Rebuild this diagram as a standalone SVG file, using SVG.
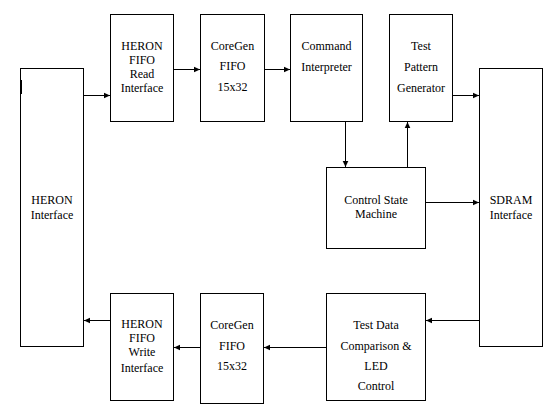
<svg xmlns="http://www.w3.org/2000/svg" width="552" height="416" viewBox="0 0 552 416">
<style>
rect{fill:#fff;stroke:#000;stroke-width:1}
text{font-size:12px;fill:#000;text-anchor:middle}
.c line{stroke:#000;stroke-width:1;marker-end:url(#a)}
</style>
<defs>
<marker id="a" markerUnits="userSpaceOnUse" markerWidth="8" markerHeight="8" viewBox="0 0 8 8" refX="7" refY="4" orient="auto">
<path d="M1,1.2 L7,4 L1,6.8 Z" fill="#000"/>
</marker>
</defs>
<rect width="552" height="416" style="fill:#fff;stroke:none"/>
<g font-family="Liberation Serif, DejaVu Serif, serif">
<g id="heron-interface">
<rect x="20.5" y="68.5" width="63" height="278"/>
<line x1="21.5" y1="80" x2="21.5" y2="94" stroke="#000"/>
<text x="52" y="204">HERON</text>
<text x="52" y="219">Interface</text>
</g>
<g id="fifo-read">
<rect x="110.5" y="14.5" width="63" height="107"/>
<text x="142" y="50">HERON</text>
<text x="142" y="64">FIFO</text>
<text x="142" y="78">Read</text>
<text x="142" y="92">Interface</text>
</g>
<g id="coregen-top">
<rect x="200.5" y="14.5" width="64" height="107"/>
<text x="232.5" y="49.5">CoreGen</text>
<text x="232.5" y="70">FIFO</text>
<text x="232.5" y="91">15x32</text>
</g>
<g id="command">
<rect x="290.5" y="14.5" width="72" height="107"/>
<text x="326.5" y="49.5">Command</text>
<text x="326.5" y="70.5">Interpreter</text>
</g>
<g id="tpg">
<rect x="389.5" y="14.5" width="63" height="107"/>
<text x="421" y="50">Test</text>
<text x="421" y="71">Pattern</text>
<text x="421" y="92">Generator</text>
</g>
<g id="sdram">
<rect x="479.5" y="68.5" width="63" height="278"/>
<text x="511" y="204">SDRAM</text>
<text x="511" y="219">Interface</text>
</g>
<g id="csm">
<rect x="326.5" y="167.5" width="99" height="81"/>
<text x="376" y="203.5">Control State</text>
<text x="376" y="218">Machine</text>
</g>
<g id="fifo-write">
<rect x="110.5" y="293.5" width="63" height="107"/>
<text x="142" y="328">HERON</text>
<text x="142" y="342">FIFO</text>
<text x="142" y="356">Write</text>
<text x="142" y="372">Interface</text>
</g>
<g id="coregen-bottom">
<rect x="200.5" y="293.5" width="63" height="110"/>
<text x="232" y="329">CoreGen</text>
<text x="232" y="350">FIFO</text>
<text x="232" y="370">15x32</text>
</g>
<g id="testdata">
<rect x="326.5" y="293.5" width="99" height="107"/>
<text x="376" y="329">Test Data</text>
<text x="376" y="349.5">Comparison &amp;</text>
<text x="376" y="369.5">LED</text>
<text x="376" y="389.5">Control</text>
</g>
</g>
<g id="connectors" class="c">
<line x1="84" y1="95.5" x2="110" y2="95.5"/>
<line x1="174" y1="69.5" x2="200" y2="69.5"/>
<line x1="265" y1="69.5" x2="290" y2="69.5"/>
<line x1="453" y1="95.5" x2="479" y2="95.5"/>
<line x1="345.5" y1="122" x2="345.5" y2="167"/>
<line x1="407.5" y1="167" x2="407.5" y2="122"/>
<line x1="426" y1="202.5" x2="479" y2="202.5"/>
<line x1="479" y1="320.5" x2="426" y2="320.5"/>
<line x1="326" y1="347.5" x2="264" y2="347.5"/>
<line x1="200" y1="347.5" x2="174" y2="347.5"/>
<line x1="110" y1="320.5" x2="84" y2="320.5"/>
</g>
</svg>
